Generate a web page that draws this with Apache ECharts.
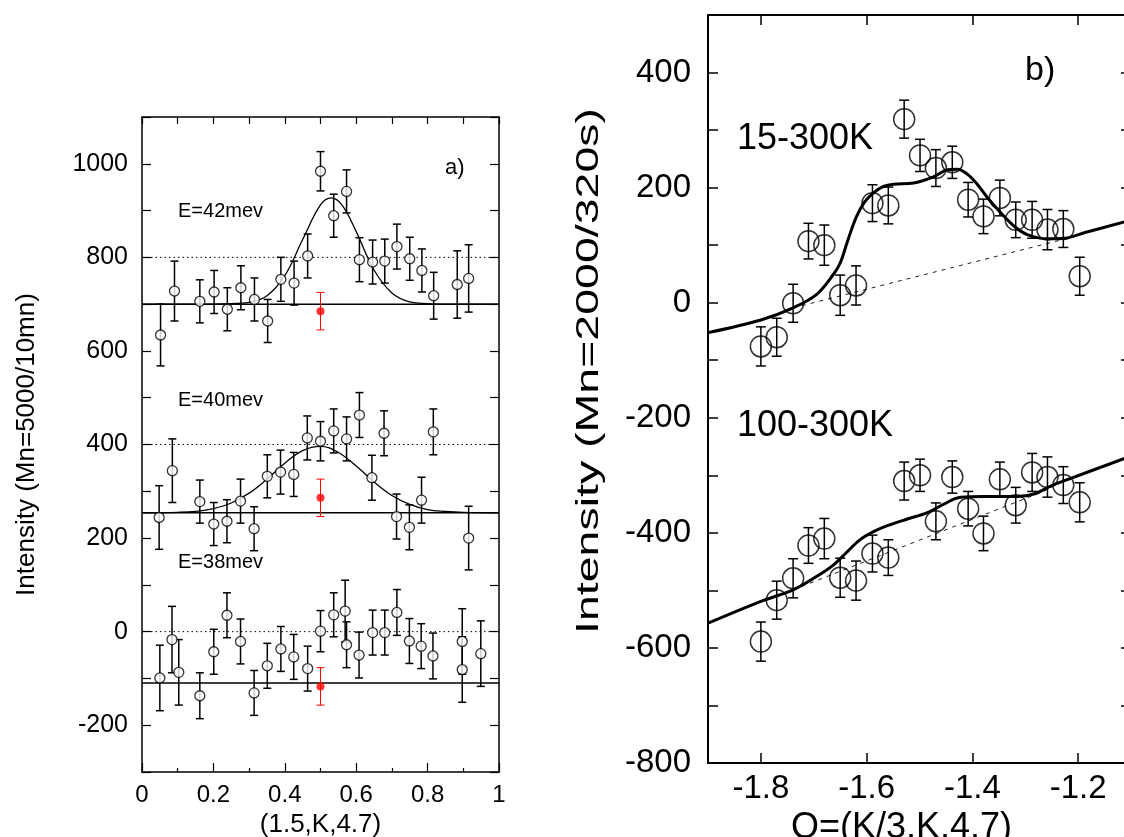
<!DOCTYPE html>
<html><head><meta charset="utf-8">
<script src="https://cdn.jsdelivr.net/npm/echarts@6/dist/echarts.min.js"></script>
<style>html,body{margin:0;padding:0;background:#fff}#c{width:1124px;height:837px}</style>
</head><body><div id="c"></div>
<script>
// ---------- Panel a) data : (1.5,K,4.7) scans ----------
const xs42 = [0.052,0.091,0.162,0.202,0.239,0.277,0.315,0.352,0.389,0.426,0.464,0.500,0.537,0.573,0.609,0.646,0.680,0.714,0.750,0.784,0.817,0.883,0.915];
const ys42 = [634,728,706,726,689,735,710,664,753,745,803,984,889,941,795,790,792,823,797,772,718,742,755];
const er42 = [66,64,46,46,46,47,46,46,47,47,47,42,46,46,47,47,47,48,46,46,50,72,72];

const xs40 = [0.048,0.085,0.162,0.201,0.238,0.276,0.314,0.351,0.388,0.425,0.463,0.500,0.537,0.573,0.609,0.644,0.678,0.713,0.749,0.783,0.816,0.915];
const ys40 = [244,344,278,230,236,279,220,332,341,336,414,407,429,412,463,329,424,246,223,281,427,200];
const er40 = [68,68,46,46,46,47,47,46,47,47,47,42,47,47,48,48,48,48,48,49,49,68];

const xs38 = [0.050,0.084,0.103,0.162,0.201,0.238,0.276,0.314,0.351,0.389,0.425,0.464,0.500,0.537,0.569,0.573,0.608,0.646,0.680,0.714,0.749,0.782,0.815,0.897,0.897,0.949];
const ys38 = [-99,-17,-87,-137,-43,35,-21,-131,-73,-37,-54,-79,1,36,44,-28,-50,-2,-2,41,-20,-31,-52,-21,-81,-47];
const er38 = [70,71,70,49,48,48,48,48,48,48,48,48,44,47,66,49,49,48,48,49,48,48,49,70,70,70];

const redX = [0.5,0.5,0.5];
const redY = [685,286,-117];
const redE = [40,40,40];

const baseLevels = [700,254,-110];
const refLevels = [800,400,0];

const fitX42 = [0,0.2,0.25,0.3,0.35,0.4,0.45,0.5,0.53,0.56,0.6,0.65,0.7,0.75,0.8,0.85,1.0];
const fitY42 = [700,700,701,704,718,761,838,912,927,912,855,773,724,705,701,700,700];
const fitX40 = [0,0.1,0.15,0.2,0.25,0.3,0.35,0.4,0.45,0.5,0.55,0.6,0.65,0.7,0.75,0.8,0.85,0.9,1.0];
const fitY40 = [254,255,257,263,275,296,326,360,387,396,383,354,320,291,272,261,257,255,254];

const aXLabels = [0,0.2,0.4,0.6,0.8,1];
const aYLabels = [-200,0,200,400,600,800,1000];

// ---------- Panel b) data : Q=(K/3,K,4.7) ----------
const bx = [-1.800,-1.770,-1.739,-1.710,-1.680,-1.650,-1.620,-1.589,-1.559,-1.529,-1.499,-1.469,-1.438,-1.408,-1.379,-1.348,-1.318,-1.287,-1.258,-1.228,-1.197];
const y15 = [-76,-60,-1,107,100,13,30,173,169,319,256,234,244,179,150,182,144,144,127,128,46];
const e15 = [34,33,33,31,35,35,34,32,32,33,28,32,28,30,30,31,31,32,35,32,33];
const y100 = [-589,-517,-479,-422,-410,-478,-483,-436,-443,-310,-300,-380,-303,-358,-401,-307,-352,-295,-303,-317,-347];
const e100 = [34,33,34,31,35,34,34,32,31,33,28,32,28,30,30,30,31,33,35,32,34];

const fit15X = [-1.9,-1.8,-1.739,-1.695,-1.663,-1.650,-1.635,-1.619,-1.603,-1.587,-1.568,-1.549,-1.511,-1.473,-1.447,-1.428,-1.409,-1.390,-1.371,-1.346,-1.320,-1.295,-1.257,-1.225,-1.187,-1.110];
const fit15Y = [-52,-30,-9,14,49,69,110,150,176,191,202,206,208,219,231,232,223,205,182,156,132,118,111,112,122,141];
const fit100X = [-1.9,-1.8,-1.739,-1.695,-1.663,-1.639,-1.614,-1.587,-1.562,-1.523,-1.485,-1.454,-1.422,-1.378,-1.314,-1.282,-1.250,-1.219,-1.110];
const fit100Y = [-557,-519,-499,-476,-456,-435,-413,-398,-388,-376,-365,-350,-338,-337,-337,-332,-318,-307,-270];

const bg15X = [-1.739,-1.228];
const bg15Y = [-9,110];
const bg100X = [-1.739,-1.26];
const bg100Y = [-499,-326];

const bTicks = [-1.8,-1.6,-1.4,-1.2];
const bYLabels = [-800,-600,-400,-200,0,200,400];

// ---------- build ----------
const FONT = '"Liberation Sans", Arial, Helvetica, sans-serif';
const zip2 = (a,b) => a.map((v,i)=>[v,b[i]]);
const zip3 = (a,b,c) => a.map((v,i)=>[v,b[i],c[i]]);
const plain = v => String(v);

function errRender(capW, lw, color){
  return function(params, api){
    const x = api.value(0), y = api.value(1), e = api.value(2);
    const t = api.coord([x, y+e]), b = api.coord([x, y-e]);
    const h = capW/2;
    const st = {stroke:color, lineWidth:lw};
    return {type:'group', children:[
      {type:'line', shape:{x1:t[0],y1:t[1],x2:b[0],y2:b[1]}, style:st},
      {type:'line', shape:{x1:t[0]-h,y1:t[1],x2:t[0]+h,y2:t[1]}, style:st},
      {type:'line', shape:{x1:b[0]-h,y1:b[1],x2:b[0]+h,y2:b[1]}, style:st}
    ]};
  };
}

const series = [];
baseLevels.forEach(v => series.push({type:'line', xAxisIndex:0, yAxisIndex:0, data:[[0,v],[1,v]], symbol:'none', silent:true,
  lineStyle:{color:'#000', width:1.5}, z:2}));
refLevels.forEach(v => series.push({type:'line', xAxisIndex:0, yAxisIndex:0, data:[[0,v],[1,v]], symbol:'none', silent:true,
  lineStyle:{color:'#000', width:1, type:[1.5,3]}, z:2}));
[[fitX42,fitY42],[fitX40,fitY40]].forEach(([fx,fy]) => series.push({type:'line', xAxisIndex:0, yAxisIndex:0,
  data:zip2(fx,fy), symbol:'none', smooth:0.4, lineStyle:{color:'#000', width:1.3}, z:3}));
[[xs42,ys42,er42],[xs40,ys40,er40],[xs38,ys38,er38]].forEach(([x,y,e]) => {
  series.push({type:'custom', xAxisIndex:0, yAxisIndex:0, data:zip3(x,y,e), encode:{x:0,y:1},
    renderItem:errRender(8,1.5,'#000'), z:4});
  series.push({type:'scatter', xAxisIndex:0, yAxisIndex:0, data:zip2(x,y), symbol:'circle', symbolSize:10,
    itemStyle:{color:'#fff', borderColor:'#000', borderWidth:1.3}, z:5});
});
series.push({type:'custom', xAxisIndex:0, yAxisIndex:0, data:zip3(redX,redY,redE), encode:{x:0,y:1},
  renderItem:errRender(8,1,'#f00'), z:4});
series.push({type:'scatter', xAxisIndex:0, yAxisIndex:0, data:zip2(redX,redY), symbol:'circle', symbolSize:8,
  itemStyle:{color:'#f00'}, z:5});

[[bg15X,bg15Y],[bg100X,bg100Y]].forEach(([x,y]) => series.push({type:'line', xAxisIndex:2, yAxisIndex:2, data:zip2(x,y),
  symbol:'none', lineStyle:{color:'#222', width:1, type:[4,5]}, z:2}));
[[fit15X,fit15Y],[fit100X,fit100Y]].forEach(([x,y]) => series.push({type:'line', xAxisIndex:2, yAxisIndex:2, data:zip2(x,y),
  symbol:'none', smooth:0.35, lineStyle:{color:'#000', width:3}, z:3}));
[[y15,e15],[y100,e100]].forEach(([y,e]) => {
  series.push({type:'scatter', xAxisIndex:2, yAxisIndex:2, data:zip2(bx,y), symbol:'circle', symbolSize:21,
    itemStyle:{color:'rgba(0,0,0,0)', borderColor:'#000', borderWidth:1.5}, z:4});
  series.push({type:'custom', xAxisIndex:2, yAxisIndex:2, data:zip3(bx,y,e), encode:{x:0,y:1},
    renderItem:errRender(10,1.5,'#000'), z:5});
});

const axLine = w => ({show:true, onZero:false, lineStyle:{color:'#000', width:w}});
const txt = size => ({fontFamily:FONT, fontSize:size, color:'#000'});

const option = {
  animation:false,
  backgroundColor:'#fff',
  grid:[
    {left:142, top:117, width:357, height:655, outerBoundsMode:'none', containLabel:false},
    {left:708, top:15, width:423, height:748, outerBoundsMode:'none', containLabel:false}
  ],
  xAxis:[
    {gridIndex:0, type:'value', min:0, max:1, interval:0.2, position:'bottom',
     axisLine:axLine(1.5), axisTick:{inside:true, length:9, lineStyle:{color:'#000', width:1.2}},
     minorTick:{show:true, splitNumber:2, length:4, lineStyle:{color:'#000', width:1.2}},
     axisLabel:{...txt(24), margin:11, formatter:plain, customValues:aXLabels}, splitLine:{show:false},
     name:'(1.5,K,4.7)', nameLocation:'middle', nameGap:37, nameTextStyle:txt(26)},
    {gridIndex:0, type:'value', min:0, max:1, interval:0.1, position:'top',
     axisLine:axLine(1.5), axisTick:{inside:true, length:7, lineStyle:{color:'#000', width:1.2}},
     axisLabel:{show:false}, splitLine:{show:false}},
    {gridIndex:1, type:'value', min:-1.9, max:-1.1, position:'bottom',
     axisLine:axLine(2), axisTick:{inside:true, length:10, customValues:bTicks, lineStyle:{color:'#000', width:1.5}},
     axisLabel:{...txt(33), margin:9, customValues:bTicks, formatter:plain}, splitLine:{show:false},
     name:'Q=(K/3,K,4.7)', nameLocation:'middle', nameGap:39, nameTextStyle:{...txt(36), padding:[0,36,0,0]}},
    {gridIndex:1, type:'value', min:-1.9, max:-1.1, position:'top',
     axisLine:axLine(2), axisTick:{inside:true, length:10, customValues:bTicks, lineStyle:{color:'#000', width:1.5}},
     axisLabel:{show:false}, splitLine:{show:false}}
  ],
  yAxis:[
    {gridIndex:0, type:'value', min:-300, max:1100, interval:100, position:'left',
     axisLine:axLine(1.5), axisTick:{inside:true, length:9, lineStyle:{color:'#000', width:1.2}},
     axisLabel:{...txt(25), margin:14, customValues:aYLabels, formatter:plain}, splitLine:{show:false},
     name:'Intensity (Mn=5000/10mn)', nameLocation:'middle', nameGap:102, nameTextStyle:txt(26)},
    {gridIndex:0, type:'value', min:-300, max:1100, interval:100, position:'right',
     axisLine:axLine(1.5), axisTick:{inside:true, length:9, lineStyle:{color:'#000', width:1.2}},
     axisLabel:{show:false}, splitLine:{show:false}},
    {gridIndex:1, type:'value', min:-800, max:500, interval:100, position:'left',
     axisLine:axLine(2), axisTick:{inside:true, length:10, lineStyle:{color:'#000', width:1.5}},
     axisLabel:{...txt(33), margin:17, customValues:bYLabels, formatter:plain}, splitLine:{show:false}},
    {gridIndex:1, type:'value', min:-800, max:500, interval:100, position:'right',
     axisLine:axLine(2), axisTick:{inside:true, length:10, lineStyle:{color:'#000', width:1.5}},
     axisLabel:{show:false}, splitLine:{show:false}}
  ],
  graphic:[
    {type:'text', x:178, y:211, style:{text:'E=42mev', fontFamily:FONT, fontSize:20, fill:'#000', align:'left', verticalAlign:'middle'}},
    {type:'text', x:178, y:400, style:{text:'E=40mev', fontFamily:FONT, fontSize:20, fill:'#000', align:'left', verticalAlign:'middle'}},
    {type:'text', x:178, y:562, style:{text:'E=38mev', fontFamily:FONT, fontSize:20, fill:'#000', align:'left', verticalAlign:'middle'}},
    {type:'text', x:445, y:168, style:{text:'a)', fontFamily:FONT, fontSize:22, fill:'#000', align:'left', verticalAlign:'middle'}},
    {type:'text', x:737, y:139, style:{text:'15-300K', fontFamily:FONT, fontSize:36, fill:'#000', align:'left', verticalAlign:'middle'}},
    {type:'text', x:737, y:426, style:{text:'100-300K', fontFamily:FONT, fontSize:36, fill:'#000', align:'left', verticalAlign:'middle'}},
    {type:'text', x:1025, y:71, style:{text:'b)', fontFamily:FONT, fontSize:34, fill:'#000', align:'left', verticalAlign:'middle'}},
    {type:'text', x:589, y:371, rotation:Math.PI/2, scaleX:1.5, scaleY:1,
     style:{text:'Intensity (Mn=2000/320s)', fontFamily:FONT, fontSize:31, fill:'#000', align:'center', verticalAlign:'middle'}}
  ],
  series:series
};
const chart = echarts.init(document.getElementById('c'), null, {renderer:'canvas'});
chart.setOption(option);
</script></body></html>
